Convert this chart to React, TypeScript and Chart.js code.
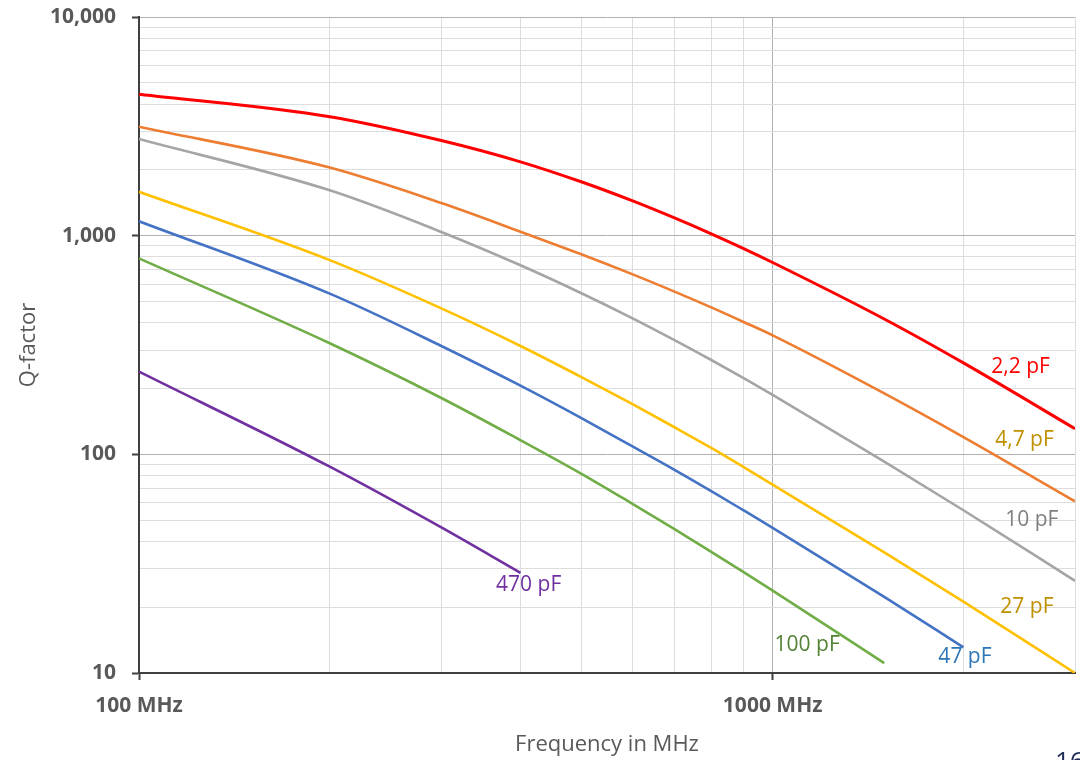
import { useEffect, useRef } from 'react';
import { Chart, registerables } from 'chart.js';

Chart.register(...registerables);

// ---- data ----
const FREQ_MHZ = [100, 200, 300, 400, 500, 600, 700, 800, 900, 1000, 1500, 2000, 3000];
const Q_2P2 = [4436, 3500, 2723, 2176, 1759, 1445, 1205, 1020, 873, 754, 416, 262, 131];
const Q_4P7 = [3148, 2048, 1410, 1043, 820, 667, 555, 470, 403, 350, 190, 120, 61];
const Q_10 = [2767, 1612, 1040, 732, 544, 420, 333, 270, 223, 187, 92.6, 55.5, 26.4];
const Q_27 = [1588, 773, 465, 313, 225, 170, 133, 107, 87.4, 72.7, 35.6, 21.2, 10];
const FREQ_47 = [100, 200, 300, 400, 500, 600, 700, 800, 900, 1000, 1500, 2000];
const Q_47 = [1164, 543, 313, 206, 146, 109, 85, 67.9, 55.4, 46.1, 22.3, 13.1];
const FREQ_100 = [100, 200, 300, 400, 500, 600, 700, 800, 900, 1000, 1500];
const Q_100 = [787, 322, 181, 116, 81.2, 59.5, 45.5, 35.8, 28.9, 23.8, 11.1];
const FREQ_470 = [100, 200, 300, 400];
const Q_470 = [239, 87.8, 46.3, 28.7];

const SERIES_NAMES = ['2,2 pF', '4,7 pF', '10 pF', '27 pF', '47 pF', '100 pF', '470 pF'];
const LINE_COLORS = ['#FF0000', '#ED7D31', '#A5A5A5', '#FFC000', '#4472C4', '#70AD47', '#7030A0'];
const LABEL_COLORS = ['#FF0000', '#BF9000', '#7F7F7F', '#BF9000', '#2E75B6', '#548235', '#7030A0'];
const LABEL_AT_MHZ = [2213, 2245, 2328, 2287, 1826, 1007, 366];
const LABEL_AT_Q = [251, 116, 50.1, 20, 11.8, 13.4, 25.3];

const X_TICKS = [100, 200, 300, 400, 500, 600, 700, 800, 900, 1000, 2000, 3000];
const X_TICK_LABELS: Record<number, string> = { 100: '100 MHz', 1000: '1000 MHz' };
const Y_TICKS = [
  10, 20, 30, 40, 50, 60, 70, 80, 90,
  100, 200, 300, 400, 500, 600, 700, 800, 900,
  1000, 2000, 3000, 4000, 5000, 6000, 7000, 8000, 9000, 10000,
];
const Y_TICK_LABELS: Record<number, string> = { 10: '10', 100: '100', 1000: '1,000', 10000: '10,000' };

const SERIES_X = [FREQ_MHZ, FREQ_MHZ, FREQ_MHZ, FREQ_MHZ, FREQ_47, FREQ_100, FREQ_470];
const SERIES_Q = [Q_2P2, Q_4P7, Q_10, Q_27, Q_47, Q_100, Q_470];

const FONT = '"Open Sans", "DejaVu Sans", sans-serif';
const TEXT_GRAY = '#595959';

const isDecade = (v: number) => Math.abs(Math.log10(v) - Math.round(Math.log10(v))) < 1e-9;

const labelPlugin = {
  id: 'seriesLabels',
  afterDatasetsDraw(chart: any) {
    const { ctx, scales } = chart;
    const xs = scales.x;
    const ys = scales.y;
    ctx.save();
    ctx.font = `21px ${FONT}`;
    ctx.textAlign = 'left';
    ctx.textBaseline = 'middle';
    SERIES_NAMES.forEach((name, i) => {
      ctx.fillStyle = LABEL_COLORS[i];
      ctx.fillText(name, xs.getPixelForValue(LABEL_AT_MHZ[i]), ys.getPixelForValue(LABEL_AT_Q[i]));
    });
    ctx.restore();
  },
};

export default function App() {
  const canvasRef = useRef<HTMLCanvasElement | null>(null);

  useEffect(() => {
    if (!canvasRef.current) return;
    const datasets = SERIES_NAMES.map((name, i) => ({
      label: name,
      data: SERIES_X[i].map((f, j) => ({ x: f, y: SERIES_Q[i][j] })),
      borderColor: LINE_COLORS[i],
      backgroundColor: LINE_COLORS[i],
      borderWidth: i === 0 ? 3 : 2.6,
      pointRadius: 0,
      pointHoverRadius: 0,
      pointBorderWidth: 0,
      fill: false,
      cubicInterpolationMode: 'monotone' as const,
    }));

    const chart = new Chart(canvasRef.current, {
      type: 'line',
      data: { datasets },
      options: {
        animation: false,
        responsive: false,
        events: [],
        layout: { autoPadding: false, padding: { top: 17, right: 5, left: 0, bottom: 0 } },
        plugins: { legend: { display: false }, tooltip: { enabled: false } },
        scales: {
          x: {
            type: 'logarithmic',
            min: 100,
            max: 3000,
            afterBuildTicks: (scale: any) => {
              scale.ticks = X_TICKS.map((v) => ({ value: v, major: isDecade(v) }));
            },
            afterFit: (scale: any) => {
              scale.height = 87;
              scale.paddingLeft = 0;
              scale.paddingRight = 0;
            },
            border: { display: true, color: '#404040', width: 2 },
            grid: {
              drawOnChartArea: true,
              drawTicks: true,
              tickLength: 7,
              lineWidth: 1,
              color: (c: any) => (c.tick && isDecade(c.tick.value) ? '#B0B0B0' : '#DDDDDD'),
              tickColor: (c: any) => (c.tick && isDecade(c.tick.value) ? '#404040' : 'rgba(0,0,0,0)'),
              tickWidth: 2,
            },
            ticks: {
              autoSkip: false,
              maxRotation: 0,
              minRotation: 0,
              padding: 13,
              color: TEXT_GRAY,
              font: { family: FONT, size: 21, weight: 'bold' },
              callback: (v: any) => X_TICK_LABELS[Number(v)] ?? '',
            },
            title: {
              display: true,
              text: 'Frequency in MHz',
              color: TEXT_GRAY,
              font: { family: FONT, size: 22 },
              padding: { top: 0, bottom: 2 },
            },
          },
          y: {
            type: 'logarithmic',
            min: 10,
            max: 10000,
            afterBuildTicks: (scale: any) => {
              scale.ticks = Y_TICKS.map((v) => ({ value: v, major: isDecade(v) }));
            },
            afterFit: (scale: any) => {
              scale.width = 139;
              scale.paddingTop = 0;
              scale.paddingBottom = 0;
            },
            border: { display: true, color: '#404040', width: 2 },
            grid: {
              drawOnChartArea: true,
              drawTicks: true,
              tickLength: 7,
              lineWidth: 1,
              color: (c: any) => (c.tick && isDecade(c.tick.value) ? '#B0B0B0' : '#DDDDDD'),
              tickColor: (c: any) => (c.tick && isDecade(c.tick.value) ? '#404040' : 'rgba(0,0,0,0)'),
              tickWidth: 2,
            },
            ticks: {
              autoSkip: false,
              padding: 16,
              color: TEXT_GRAY,
              font: { family: FONT, size: 21, weight: 'bold' },
              callback: (v: any) => Y_TICK_LABELS[Number(v)] ?? '',
            },
            title: {
              display: true,
              text: 'Q-factor',
              color: TEXT_GRAY,
              font: { family: FONT, size: 22 },
              padding: { top: 16, bottom: 0 },
            },
          },
        },
      },
      plugins: [labelPlugin],
    });
    return () => chart.destroy();
  }, []);

  return (
    <div
      style={{
        position: 'fixed',
        left: 0,
        top: 0,
        width: 1080,
        height: 760,
        overflow: 'hidden',
        background: '#FFFFFF',
      }}
    >
      <canvas ref={canvasRef} width={1080} height={760} style={{ width: 1080, height: 760, display: 'block' }} />
      <div
        style={{
          position: 'absolute',
          left: 1055,
          top: 745,
          fontFamily: FONT,
          fontSize: 26,
          lineHeight: '30px',
          color: '#1F2D5A',
          whiteSpace: 'nowrap',
        }}
      >
        16
      </div>
    </div>
  );
}
